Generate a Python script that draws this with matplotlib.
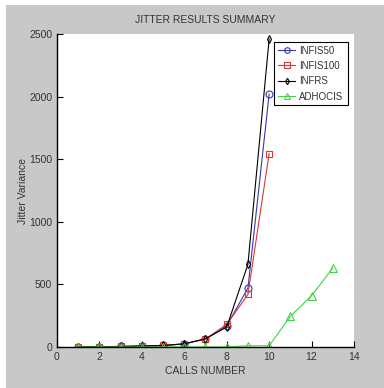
import matplotlib.pyplot as plt
from matplotlib.patches import Rectangle

calls = [1, 2, 3, 4, 5, 6, 7, 8, 9, 10]
calls_adhoc = [1, 2, 3, 4, 5, 6, 7, 8, 9, 10, 11, 12, 13]

infis50 = [2, 3, 4, 8, 12, 25, 65, 170, 470, 2020]
infis100 = [2, 3, 4, 8, 12, 25, 65, 180, 420, 1545]
infrs = [2, 3, 4, 8, 12, 25, 65, 160, 660, 2460]
adhocis = [0, 0, 0, 0, 0, 0, 0, 0, 10, 10, 245, 410, 630]

plt.rcParams['font.family'] = ['Liberation Sans', 'DejaVu Sans']

W, H = 384, 388
fig = plt.figure(figsize=(W / 100, H / 100), dpi=100, facecolor='#c8c8c8')
# white strips on top and left like the screenshot
fig.patches.append(Rectangle((0, 0), 6 / W, 1, transform=fig.transFigure,
                             facecolor='white', edgecolor='none', zorder=0))
fig.patches.append(Rectangle((0, 1 - 5 / H), 1, 5 / H, transform=fig.transFigure,
                             facecolor='white', edgecolor='none', zorder=0))

# axes box in pixels: left 57, right 354, top 34, bottom 347
ax = fig.add_axes([57 / W, 1 - 347 / H, (354 - 57) / W, (347 - 34) / H])
ax.set_facecolor('white')

lw = 0.8
ms = 5
ax.plot(calls, infis50, '-o', color='#3535b5', mfc='none', lw=lw, ms=ms, mew=0.8, label='INFIS50')
ax.plot(calls, infis100, '-s', color='#d83838', mfc='none', lw=lw, ms=ms, mew=0.8, label='INFIS100')
ax.plot(calls, infrs, '-d', color='black', mfc='none', lw=lw, ms=ms - 1, mew=0.8, label='INFRS')
ax.plot(calls_adhoc, adhocis, '-^', color='#44d444', mfc='none', lw=lw, ms=ms + 1, mew=0.8, label='ADHOCIS')

ax.set_xlim(0, 14)
ax.set_ylim(0, 2500)
ax.set_xticks(range(0, 15, 2))
ax.set_yticks(range(0, 2501, 500))
ax.spines['top'].set_visible(False)
ax.spines['right'].set_visible(False)
ax.spines['left'].set_linewidth(1)
ax.spines['bottom'].set_linewidth(1)
ax.tick_params(direction='in', length=4, labelsize=7.5, labelcolor='#333333')

ax.set_title('JITTER RESULTS SUMMARY', fontsize=7.5, pad=8, color='#333333')
ax.set_xlabel('CALLS NUMBER', fontsize=7.5, labelpad=3, color='#333333')
ax.set_ylabel('Jitter Variance', fontsize=7.5, labelpad=1, color='#333333')

leg = ax.legend(loc='upper right', bbox_to_anchor=(0.988, 0.985), fontsize=7,
                fancybox=False, framealpha=1, edgecolor='black', markerscale=0.8,
                handlelength=1.8, handletextpad=0.4, borderpad=0.4, labelspacing=0.55,
                borderaxespad=0.3)
leg.get_frame().set_linewidth(0.8)
for t in leg.get_texts():
    t.set_color('#333333')

fig.savefig('out.png', dpi=100, facecolor=fig.get_facecolor())
